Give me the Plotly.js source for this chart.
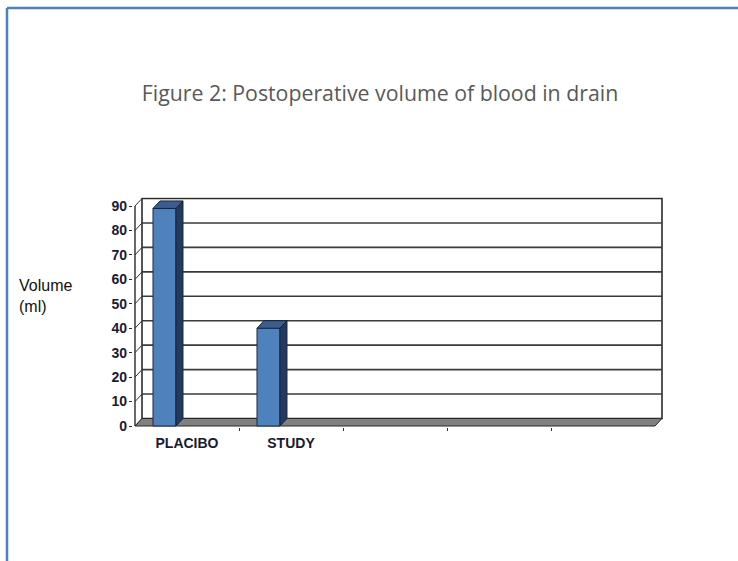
<!DOCTYPE html>
<html>
<head>
<meta charset="utf-8">
<script src="https://cdn.plot.ly/plotly-3.0.1.min.js"></script>
<style>html,body{margin:0;padding:0;background:#fff;}#chart{width:738px;height:561px;}</style>
</head>
<body>
<div id="chart"></div>
<script>
// ---- data ----
const categories = ['PLACIBO', 'STUDY', '', '', ''];
const groups = ['PLACIBO', 'STUDY'];
const volumes = [89, 40];
const yTicks = [0, 10, 20, 30, 40, 50, 60, 70, 80, 90];
const chartTitle = 'Figure 2: Postoperative volume of blood in drain';
const yLabel = 'Volume<br>(ml)';

// ---- geometry (pixels of the 738x561 canvas) ----
const W = 738, H = 561;
const xMin = -0.52, xMax = 4.62, yMin = -0.5, yMax = 93.6;
const pxPerX = 104, pxPerY = 220 / 90;
const leftPx = 135 + (xMin + 0.5) * pxPerX;
const rightPx = leftPx + (xMax - xMin) * pxPerX;
const bottomPx = 426 - yMin * pxPerY;
const topPx = 426 - yMax * pxPerY;
const dx = 7 / pxPerX;      // depth offset in x data units
const dy = 7.5 / pxPerY;    // depth offset in y data units
const barOffset = -0.327, barWidth = 0.221;
const catLo = -0.5, catHi = categories.length - 0.5;
const yTop = yTicks[yTicks.length - 1];

const tickFont = {family: 'Liberation Sans, Arial, sans-serif', size: 14, weight: 'bold', color: '#1a1a33'};

const shapes = [];
// back wall
shapes.push({type: 'rect', xref: 'x', yref: 'y', layer: 'below',
  x0: catLo + dx, x1: catHi + dx, y0: dy, y1: yTop + dy,
  fillcolor: '#ffffff', line: {color: '#2a2a2a', width: 1.6}});
yTicks.forEach(t => {
  if (t > 0 && t < yTop) {
    shapes.push({type: 'line', xref: 'x', yref: 'y', layer: 'below',
      x0: catLo + dx, x1: catHi + dx, y0: t + dy, y1: t + dy,
      line: {color: '#3a3a3a', width: 1.6}});
  }
  // left wall lines
  shapes.push({type: 'line', xref: 'x', yref: 'y', layer: 'below',
    x0: catLo, x1: catLo + dx, y0: t, y1: t + dy,
    line: {color: '#333333', width: 1}});
});
// floor
shapes.push({type: 'path', xref: 'x', yref: 'y', layer: 'below',
  path: `M${catLo},0 L${catHi},0 L${catHi + dx},${dy} L${catLo + dx},${dy} Z`,
  fillcolor: '#808080', line: {color: '#2a2a2a', width: 1}});
// front axis line
shapes.push({type: 'line', xref: 'x', yref: 'y', layer: 'below',
  x0: catLo, x1: catLo, y0: 0, y1: yTop, line: {color: '#2a2a2a', width: 1.4}});
// 3D faces of bars
volumes.forEach((v, i) => {
  const xl = i + barOffset, xr = i + barOffset + barWidth;
  shapes.push({type: 'path', xref: 'x', yref: 'y', layer: 'above',
    path: `M${xr},0 L${xr + dx},${dy} L${xr + dx},${v + dy} L${xr},${v} Z`,
    fillcolor: '#233a5e', line: {color: '#18243a', width: 1}});
  shapes.push({type: 'path', xref: 'x', yref: 'y', layer: 'above',
    path: `M${xl},${v} L${xr},${v} L${xr + dx},${v + dy} L${xl + dx},${v + dy} Z`,
    fillcolor: '#3b5d8f', line: {color: '#18243a', width: 1}});
});
// blue frame
shapes.push({type: 'line', xref: 'paper', yref: 'paper', x0: 7 / W, x1: 1, y0: 1 - 8 / H, y1: 1 - 8 / H,
  line: {color: '#4f81bd', width: 2.5}});
shapes.push({type: 'line', xref: 'paper', yref: 'paper', x0: 7 / W, x1: 7 / W, y0: 1 - 8 / H, y1: 0,
  line: {color: '#4f81bd', width: 2.5}});

const traces = [{
  type: 'bar',
  x: groups.map((g, i) => i),
  y: volumes,
  offset: barOffset,
  width: barWidth,
  marker: {color: '#4f81bd', line: {color: '#1b2a44', width: 1}},
  hoverinfo: 'skip'
}];

const layout = {
  width: W, height: H,
  margin: {l: 0, r: 0, t: 0, b: 0, pad: 0},
  paper_bgcolor: '#ffffff', plot_bgcolor: 'rgba(0,0,0,0)',
  showlegend: false,
  title: {text: chartTitle, x: 380 / W, xanchor: 'center', y: 1 - 94 / H, yanchor: 'middle',
    xref: 'paper', yref: 'paper',
    font: {family: 'Open Sans, Noto Sans, sans-serif', size: 21.3, color: '#595959'}},
  xaxis: {
    domain: [leftPx / W, rightPx / W], range: [xMin, xMax],
    showgrid: false, zeroline: false, showline: false,
    tickmode: 'array', tickvals: categories.map((c, i) => i), ticktext: categories,
    ticks: '', ticklabelstandoff: 6,
    tickfont: tickFont,
    minor: {tickmode: 'array', tickvals: categories.slice(1).map((c, i) => i + 0.5), ticks: 'outside', ticklen: 3, tickcolor: '#333', tickwidth: 1},
    fixedrange: true
  },
  yaxis: {
    domain: [1 - bottomPx / H, 1 - topPx / H], range: [yMin, yMax],
    showgrid: false, zeroline: false, showline: false,
    tickmode: 'array', tickvals: yTicks, ticks: 'outside', ticklen: 3, tickcolor: '#2a2a2a',
    ticklabelstandoff: -1,
    tickfont: tickFont,
    fixedrange: true
  },
  annotations: [{
    xref: 'paper', yref: 'paper', x: 17 / W, y: 1 - 275 / H, xanchor: 'left', yanchor: 'top',
    align: 'left', showarrow: false, text: yLabel,
    font: {family: 'Liberation Sans, Arial, sans-serif', size: 16, color: '#111'}
  }],
  shapes: shapes
};

Plotly.newPlot('chart', traces, layout, {displayModeBar: false, staticPlot: true});
</script>
</body>
</html>
